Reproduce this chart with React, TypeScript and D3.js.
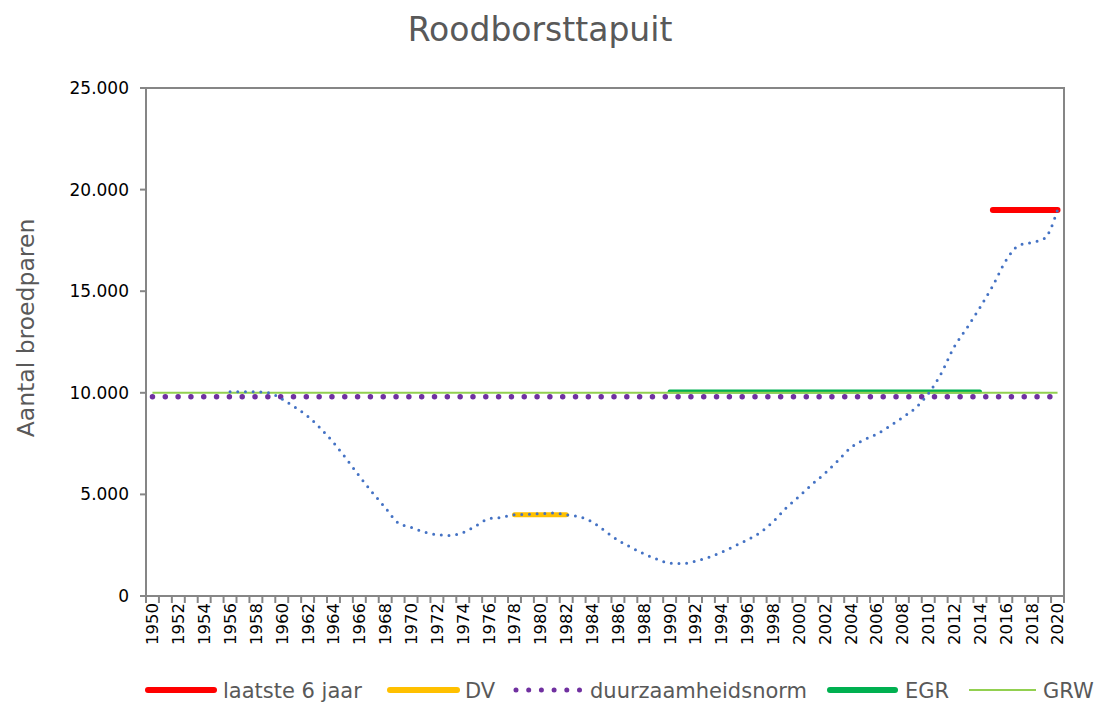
import React from "react";
import * as d3 from "d3";

const title = "Roodborsttapuit";
const yAxisTitle = "Aantal broedparen";
const years: number[] = d3.range(1950, 2021);
const yTicks = [0, 5000, 10000, 15000, 20000, 25000];

const trendYears: number[] = d3.range(1956, 2021);
const trendValues = [
  10050, 10050, 10050, 10000, 9700, 9300, 8850, 8250, 7550, 6750,
  5900, 5100, 4350, 3600, 3380, 3150, 3020, 2980, 3120, 3450,
  3800, 3870, 4000, 4020, 4050, 4080, 4000, 3900, 3650, 3200,
  2750, 2400, 2080, 1820, 1620, 1600, 1720, 1900, 2150, 2450,
  2760, 3120, 3650, 4330, 4900, 5490, 6030, 6650, 7300, 7680,
  7960, 8350, 8780, 9250, 9950, 10950, 12250, 13200, 14200, 15280,
  16500, 17250, 17400, 17600, 19000,
];

const laatsteYears = [2015, 2020];
const laatsteValues = [19000, 19000];
const dvYears = [1978, 1982];
const dvValues = [4000, 4000];
const normYears = [1950, 2020];
const normValues = [9800, 9800];
const egrYears = [1990, 2014];
const egrValues = [10060, 10060];
const grwYears = [1950, 2020];
const grwValues = [10000, 10000];

const legendLabels = ["laatste 6 jaar", "DV", "duurzaamheidsnorm", "EGR", "GRW"];

const FONT = "'DejaVu Sans', Verdana, sans-serif";
const W = 1097;
const H = 702;
const left = 146;
const right = 1064;
const top = 88;
const bottom = 596;

const nl = d3.formatLocale({ decimal: ",", thousands: ".", grouping: [3], currency: ["€", ""] });
const fmt = nl.format(",");

export default function App() {
  const xBand = d3.scaleBand<number>().domain(years).range([left, right]).paddingInner(0).paddingOuter(0);
  const bw = xBand.bandwidth();
  const x = (yr: number) => (xBand(yr) as number) + bw / 2;
  const y = d3.scaleLinear().domain([0, 25000]).range([bottom, top]);

  const line = (xs: number[], vs: number[], curve = d3.curveLinear) =>
    d3
      .line<number>()
      .x((_, i) => x(xs[i]))
      .y((v) => y(v))
      .curve(curve)(vs) as string;

  const axisColor = "#868686";

  const legendItems = [
    { label: legendLabels[0], x0: 145, x1: 217, tx: 223, color: "#FF0000", w: 6, dots: false },
    { label: legendLabels[1], x0: 387, x1: 460, tx: 465, color: "#FFC000", w: 6, dots: false },
    { label: legendLabels[2], x0: 513, x1: 582, tx: 590, color: "#7030A0", w: 5, dots: true },
    { label: legendLabels[3], x0: 827, x1: 898, tx: 905, color: "#00B050", w: 6, dots: false },
    { label: legendLabels[4], x0: 968, x1: 1037, tx: 1043, color: "#92D050", w: 2, dots: false },
  ];
  const ly = 690;

  return (
    <svg
      width={W}
      height={H}
      style={{ position: "absolute", left: 0, top: 0, display: "block", background: "#fff" }}
      fontFamily={FONT}
    >
      <rect x={0} y={0} width={W} height={H} fill="#fff" />
      <text x={540} y={41} textAnchor="middle" fontSize={33} fill="#595959">
        {title}
      </text>
      <text
        transform={`translate(34, 328) rotate(-90)`}
        textAnchor="middle"
        fontSize={23.5}
        fill="#595959"
      >
        {yAxisTitle}
      </text>

      {/* plot border */}
      <rect x={left} y={top} width={right - left} height={bottom - top} fill="none" stroke={axisColor} strokeWidth={2} />

      {/* y ticks */}
      {yTicks.map((t) => (
        <g key={t}>
          <line x1={left - 6} x2={left} y1={y(t)} y2={y(t)} stroke={axisColor} strokeWidth={2} />
          <text x={129} y={y(t)} dy="0.35em" textAnchor="end" fontSize={17} fill="#000">
            {fmt(t)}
          </text>
        </g>
      ))}

      {/* x ticks */}
      {[...years.map((yr) => xBand(yr) as number), right].map((px, i) => (
        <line key={i} x1={px} x2={px} y1={bottom} y2={bottom + 7} stroke={axisColor} strokeWidth={2} />
      ))}
      {years
        .filter((yr) => (yr - 1950) % 2 === 0)
        .map((yr) => (
          <text
            key={yr}
            transform={`translate(${x(yr)}, 603) rotate(-90)`}
            textAnchor="end"
            dy="0.36em"
            fontSize={16.5}
            fill="#000"
          >
            {yr}
          </text>
        ))}

      {/* series */}
      <path d={line(laatsteYears, laatsteValues)} fill="none" stroke="#FF0000" strokeWidth={6} strokeLinecap="round" />
      <path d={line(dvYears, dvValues)} fill="none" stroke="#FFC000" strokeWidth={5} strokeLinecap="round" />
      <path
        d={line(normYears, normValues)}
        fill="none"
        stroke="#7030A0"
        strokeWidth={5.5}
        strokeLinecap="round"
        strokeDasharray="0 12.82"
      />
      <path d={line(egrYears, egrValues)} fill="none" stroke="#00B050" strokeWidth={4} strokeLinecap="round" />
      <path d={line(grwYears, grwValues)} fill="none" stroke="#92D050" strokeWidth={2} />
      <path
        d={line(trendYears, trendValues, d3.curveMonotoneX)}
        fill="none"
        stroke="#4472C4"
        strokeWidth={3}
        strokeLinecap="round"
        strokeDasharray="0 7.7"
      />

      {/* legend */}
      {legendItems.map((it) => (
        <g key={it.label}>
          {it.dots ? (
            <line
              x1={it.x0 + 3}
              x2={it.x1 - 1}
              y1={ly}
              y2={ly}
              stroke={it.color}
              strokeWidth={it.w}
              strokeLinecap="round"
              strokeDasharray="0 12.7"
            />
          ) : (
            <line
              x1={it.x0 + it.w / 2}
              x2={it.x1 - it.w / 2}
              y1={ly}
              y2={ly}
              stroke={it.color}
              strokeWidth={it.w}
              strokeLinecap={it.w > 2 ? "round" : "butt"}
            />
          )}
          <text x={it.tx} y={ly} dy="0.36em" fontSize={21} fill="#595959">
            {it.label}
          </text>
        </g>
      ))}
    </svg>
  );
}
